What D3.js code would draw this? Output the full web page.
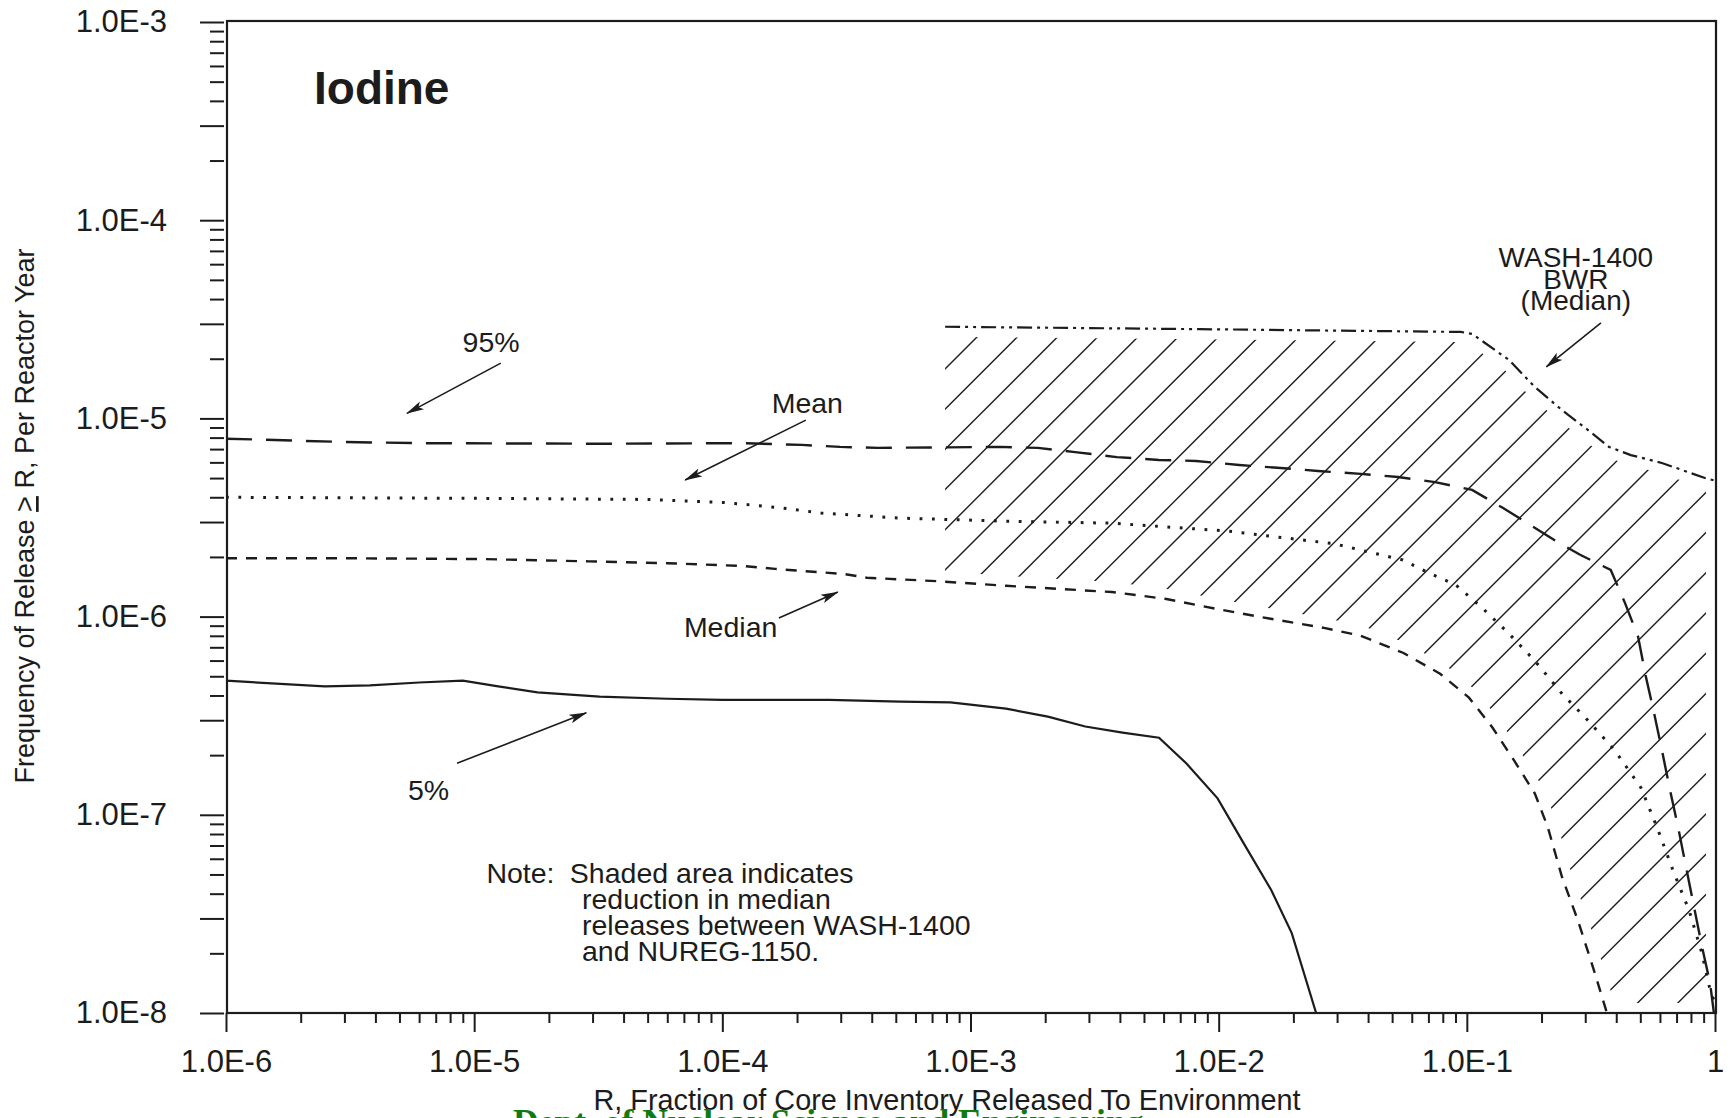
<!DOCTYPE html>
<html><head><meta charset="utf-8">
<script src="https://cdn.jsdelivr.net/npm/d3@7"></script>
<style>
html,body{margin:0;padding:0;background:#fff;overflow:hidden;}
svg{display:block;font-family:"Liberation Sans",Arial,Helvetica,sans-serif;}
</style></head><body>
<svg id="chart" width="1730" height="1118"></svg>
<script>
// ---------------- data (R = fraction released, F = frequency per reactor year) -------------
const p95R = [1e-6, 3e-6, 6.1e-6, 3.2e-5, 1.22e-4, 2.09e-4, 2.98e-4, 4.24e-4, 1.31e-3, 1.87e-3, 2.64e-3, 3.89e-3, 5.75e-3, 8.1e-3, 1.21e-2, 1.78e-2, 2.51e-2, 3.74e-2, 5.28e-2, 7.45e-2, 0.105, 0.14, 0.18, 0.229, 0.286, 0.38, 0.434, 0.49, 0.527, 0.568, 0.611, 0.659, 0.71, 0.764, 0.823, 0.887, 0.955, 0.99];
const p95F = [7.9e-6, 7.6e-6, 7.5e-6, 7.45e-6, 7.5e-6, 7.35e-6, 7.18e-6, 7.1e-6, 7.18e-6, 7.1e-6, 6.76e-6, 6.38e-6, 6.17e-6, 6.1e-6, 5.82e-6, 5.62e-6, 5.43e-6, 5.25e-6, 5.06e-6, 4.77e-6, 4.36e-6, 3.53e-6, 2.9e-6, 2.4e-6, 2.05e-6, 1.72e-6, 1.17e-6, 7.9e-7, 4.95e-7, 3.27e-7, 2.12e-7, 1.33e-7, 8.67e-8, 5.46e-8, 3.43e-8, 2.15e-8, 1.42e-8, 1.0e-8];

const meanR = [1e-6, 1e-5, 5e-5, 1.03e-4, 1.75e-4, 2.5e-4, 5.2e-4, 1.39e-3, 3.72e-3, 1.09e-2, 2.92e-2, 5.53e-2, 7.03e-2, 9.0e-2, 0.115, 0.148, 0.188, 0.242, 0.308, 0.395, 0.503, 0.584, 0.677, 0.786, 0.886, 0.955, 1.0];
const meanF = [4.0e-6, 3.95e-6, 3.9e-6, 3.76e-6, 3.53e-6, 3.33e-6, 3.14e-6, 3.03e-6, 2.96e-6, 2.7e-6, 2.33e-6, 1.93e-6, 1.66e-6, 1.45e-6, 1.11e-6, 8.19e-7, 5.98e-7, 4.08e-7, 2.99e-7, 2.11e-7, 1.37e-7, 8.65e-8, 5.25e-8, 3.3e-8, 2.0e-8, 1.31e-8, 1.12e-8];

const medianR = [1e-6, 3e-6, 6e-6, 1.1e-5, 2.9e-5, 6e-5, 1.22e-4, 1.63e-4, 3.09e-4, 3.83e-4, 7.3e-4, 1.39e-3, 2.27e-3, 3.72e-3, 6.08e-3, 9.93e-3, 1.62e-2, 2.63e-2, 3.74e-2, 5.53e-2, 7.8e-2, 0.102, 0.127, 0.155, 0.188, 0.212, 0.242, 0.28, 0.322, 0.367];
const medianF = [1.97e-6, 1.97e-6, 1.96e-6, 1.95e-6, 1.9e-6, 1.86e-6, 1.8e-6, 1.74e-6, 1.64e-6, 1.57e-6, 1.51e-6, 1.43e-6, 1.38e-6, 1.33e-6, 1.23e-6, 1.09e-6, 9.75e-7, 8.79e-7, 8.0e-7, 6.57e-7, 5.15e-7, 3.9e-7, 2.75e-7, 1.88e-7, 1.28e-7, 8.65e-8, 4.84e-8, 2.94e-8, 1.71e-8, 1.0e-8];

const p05R = [1e-6, 1.8e-6, 2.5e-6, 3.8e-6, 6e-6, 9e-6, 1.25e-5, 1.8e-5, 3.2e-5, 6e-5, 1e-4, 1.6e-4, 2.7e-4, 5.2e-4, 8.3e-4, 1.39e-3, 2.05e-3, 2.9e-3, 4.1e-3, 5.75e-3, 7.4e-3, 9.9e-3, 1.26e-2, 1.63e-2, 1.97e-2, 2.47e-2];
const p05F = [4.75e-7, 4.55e-7, 4.45e-7, 4.5e-7, 4.65e-7, 4.75e-7, 4.45e-7, 4.15e-7, 3.95e-7, 3.85e-7, 3.8e-7, 3.8e-7, 3.8e-7, 3.72e-7, 3.69e-7, 3.43e-7, 3.13e-7, 2.79e-7, 2.6e-7, 2.45e-7, 1.82e-7, 1.21e-7, 7.2e-8, 4.16e-8, 2.53e-8, 1.0e-8];

const washR = [7.9e-4, 8.4e-3, 9.46e-2, 0.105, 0.148, 0.188, 0.242, 0.308, 0.374, 0.458, 0.611, 0.911, 1.0];
const washF = [2.9e-5, 2.82e-5, 2.73e-5, 2.67e-5, 1.97e-5, 1.44e-5, 1.1e-5, 8.73e-6, 7.18e-6, 6.53e-6, 5.96e-6, 5.0e-6, 4.85e-6];

const xMajorTicks = [1e-6, 1e-5, 1e-4, 1e-3, 1e-2, 1e-1, 1];
const xTickLabels = ["1.0E-6", "1.0E-5", "1.0E-4", "1.0E-3", "1.0E-2", "1.0E-1", "1"];
const yMajorTicks = [1e-8, 1e-7, 1e-6, 1e-5, 1e-4, 1e-3];
const yTickLabels = ["1.0E-8", "1.0E-7", "1.0E-6", "1.0E-5", "1.0E-4", "1.0E-3"];

const chartTitle = "Iodine";
const xTitle = "R, Fraction of Core Inventory Released To Environment";
const yTitleA = "Frequency of Release ", yTitleGe = ">", yTitleB = " R, Per Reactor Year";
const noteLines = ["Shaded area indicates", "reduction in median", "releases between WASH-1400", "and NUREG-1150."];
const washLabel = ["WASH-1400", "BWR", "(Median)"];
const footer = "Dept. of Nuclear Science and Engineering";

// annotation anchors in data coordinates [R, F]
const annotations = [
  {text: "95%",    at: [1.17e-5, 2.16e-5], from: [1.28e-5, 1.9e-5],  to: [5.36e-6, 1.06e-5]},
  {text: "Mean",   at: [2.2e-4, 1.06e-5],  from: [2.17e-4, 9.8e-6],  to: [7.08e-5, 4.89e-6]},
  {text: "Median", at: [1.08e-4, 7.89e-7], from: [1.69e-4, 9.84e-7], to: [2.92e-4, 1.33e-6]},
  {text: "5%",     at: [6.55e-6, 1.19e-7], from: [8.53e-6, 1.82e-7], to: [2.83e-5, 3.27e-7]}
];
const washArrow = {at: [0.275, 5.8e-5], from: [0.347, 3.03e-5], to: [0.209, 1.82e-5]};
const noteAt = {noteR: 1.12e-5, textR: 2.43e-5, indentR: 2.72e-5, F: [4.53e-8, 3.35e-8, 2.48e-8, 1.83e-8]};

// ---------------- drawing -------------
const INK = "#1c1c1c";
const svg = d3.select("#chart");
const x = d3.scaleLog().domain([1e-6, 1]).range([226, 1715]);
const y = d3.scaleLog().domain([1e-8, 1e-3]).range([1013, 22]);
const [xl, xr] = x.range(), [yb, yt] = y.range();

const defs = svg.append("defs");
defs.append("clipPath").attr("id", "plotclip").append("rect")
  .attr("x", xl).attr("y", yt).attr("width", xr - xl + 2).attr("height", yb - yt);
defs.append("marker").attr("id", "arrow").attr("viewBox", "0 0 18 10")
  .attr("refX", 17).attr("refY", 5).attr("markerWidth", 18).attr("markerHeight", 10)
  .attr("markerUnits", "userSpaceOnUse").attr("orient", "auto")
  .append("path").attr("d", "M0,0.5 L18,5 L0,9.5 L4,5 Z").attr("fill", INK);

// ---- hatched region between WASH-1400 and NUREG-1150 median
const zip = (a, b) => a.map((v, i) => [v, b[i]]);
const wash = zip(washR, washF), med = zip(medianR, medianF);
const R0 = washR[0];
function medAt(r) {
  for (let i = 1; i < med.length; i++) {
    if (med[i][0] >= r) {
      const t = (Math.log(r) - Math.log(med[i-1][0])) / (Math.log(med[i][0]) - Math.log(med[i-1][0]));
      return Math.exp(Math.log(med[i-1][1]) + t * (Math.log(med[i][1]) - Math.log(med[i-1][1])));
    }
  }
  return med[med.length - 1][1];
}
const inset = 10;
const poly = [];
poly.push([x(R0) - inset, y(washF[0])]);
wash.forEach(d => poly.push([x(d[0]), y(d[1])]));
poly.push([xr + 1, y(washF[washF.length - 1])]);
poly.push([xr + 1, yb]);
med.filter(d => d[0] > R0).reverse().forEach(d => poly.push([x(d[0]), y(d[1])]));
poly.push([x(R0), y(medAt(R0))]);
poly.push([x(R0) - inset, y(medAt(R0))]);
const polyPath = "M" + poly.map(p => p.join(",")).join("L") + "Z";
const mask = defs.append("mask").attr("id", "hatchmask").attr("maskUnits", "userSpaceOnUse")
  .attr("x", 0).attr("y", 0).attr("width", 1730).attr("height", 1118);
mask.append("path").attr("d", polyPath).attr("fill", "#fff").attr("stroke", "#000").attr("stroke-width", inset * 2);

const hatch = svg.append("g").attr("mask", "url(#hatchmask)").attr("clip-path", "url(#plotclip)");
const hx0 = x(R0), hyTop = y(washF[0]);
const spacing = 40.2, c0 = 1314;
const cMin = hx0 + hyTop, cMax = xr + yb;
for (let c = c0 - Math.ceil((c0 - cMin) / spacing) * spacing; c <= cMax + spacing; c += spacing) {
  hatch.append("line").attr("x1", c - yb).attr("y1", yb).attr("x2", c - hyTop).attr("y2", hyTop)
    .attr("stroke", INK).attr("stroke-width", 1.4);
}

// ---- curves
const line = d3.line().x(d => x(d[0])).y(d => y(d[1]));
const curves = svg.append("g").attr("clip-path", "url(#plotclip)").attr("fill", "none").attr("stroke", INK);
curves.append("path").datum(zip(p95R, p95F)).attr("d", line).attr("stroke-width", 2.4).attr("stroke-dasharray", "26,14");
curves.append("path").datum(zip(meanR, meanF)).attr("d", line).attr("stroke-width", 3).attr("stroke-dasharray", "2.8,9.6");
curves.append("path").datum(med).attr("d", line).attr("stroke-width", 2.4).attr("stroke-dasharray", "11,9");
curves.append("path").datum(zip(p05R, p05F)).attr("d", line).attr("stroke-width", 2.2);
curves.append("path").datum(wash).attr("d", line).attr("stroke-width", 2.2).attr("stroke-dasharray", "15,5,3,5,3,5");

// ---- frame
svg.append("rect").attr("x", xl + 1).attr("y", yt - 1).attr("width", xr - xl).attr("height", yb - yt + 1)
  .attr("fill", "none").attr("stroke", INK).attr("stroke-width", 2.2);

// ---- axes
function styleAxis(g, fs) {
  g.select(".domain").remove();
  g.selectAll(".tick line").attr("stroke", INK).attr("stroke-width", 2);
  g.selectAll(".tick text").attr("fill", INK).attr("font-size", fs)
    .attr("font-family", '"Liberation Sans",Arial,Helvetica,sans-serif');
}
const decX = d3.range(-6, 0), decY = d3.range(-8, -3);
const xMinor = decX.flatMap(k => d3.range(2, 10).map(m => m * Math.pow(10, k)));
const yThree = decY.map(k => 3 * Math.pow(10, k));
const yMinor = decY.flatMap(k => [2, 4, 5, 6, 7, 8, 9].map(m => m * Math.pow(10, k)));

svg.append("g").attr("transform", `translate(0,${yb})`)
  .call(d3.axisBottom(x).tickValues(xMajorTicks).tickSize(19).tickPadding(18)
    .tickFormat(d => xTickLabels[xMajorTicks.indexOf(d)])).call(g => styleAxis(g, 31));
svg.append("g").attr("transform", `translate(0,${yb})`)
  .call(d3.axisBottom(x).tickValues(xMinor).tickSize(10).tickFormat(() => "")).call(g => styleAxis(g, 31));

svg.append("g").attr("transform", `translate(${xl - 2},0)`)
  .call(d3.axisLeft(y).tickValues(yMajorTicks).tickSize(24).tickPadding(33)
    .tickFormat(d => yTickLabels[yMajorTicks.indexOf(d)])).call(g => styleAxis(g, 31));
svg.append("g").attr("transform", `translate(${xl - 2},0)`)
  .call(d3.axisLeft(y).tickValues(yThree).tickSize(24).tickFormat(() => "")).call(g => styleAxis(g, 31));
svg.append("g").attr("transform", `translate(${xl - 2},0)`)
  .call(d3.axisLeft(y).tickValues(yMinor).tickSize(14).tickFormat(() => "")).call(g => styleAxis(g, 31));

// ---- axis titles
svg.append("text").attr("x", 947).attr("y", 1110).attr("text-anchor", "middle")
  .attr("font-size", 28.8).attr("fill", INK).text(xTitle);
const yt_ = svg.append("text").attr("transform", "translate(34,516) rotate(-90)").attr("text-anchor", "middle")
  .attr("font-size", 27).attr("fill", INK);
yt_.append("tspan").text(yTitleA);
yt_.append("tspan").attr("text-decoration", "underline").text(yTitleGe);
yt_.append("tspan").text(yTitleB);

// ---- chart title
svg.append("text").attr("x", 314).attr("y", 104).attr("font-size", 46).attr("font-weight", "bold")
  .attr("fill", INK).text(chartTitle);

// ---- annotations
const ann = svg.append("g").attr("fill", INK);
annotations.forEach(a => {
  ann.append("text").attr("x", x(a.at[0])).attr("y", y(a.at[1])).attr("text-anchor", "middle")
    .attr("font-size", 28.5).text(a.text);
  ann.append("line").attr("x1", x(a.from[0])).attr("y1", y(a.from[1]))
    .attr("x2", x(a.to[0])).attr("y2", y(a.to[1]))
    .attr("stroke", INK).attr("stroke-width", 1.6).attr("marker-end", "url(#arrow)");
});
const wl = ann.append("text").attr("text-anchor", "middle").attr("font-size", 28);
washLabel.forEach((t, i) => wl.append("tspan").attr("x", x(washArrow.at[0]))
  .attr("y", y(washArrow.at[1]) + i * 21.5).text(t));
ann.append("line").attr("x1", x(washArrow.from[0])).attr("y1", y(washArrow.from[1]))
  .attr("x2", x(washArrow.to[0])).attr("y2", y(washArrow.to[1]))
  .attr("stroke", INK).attr("stroke-width", 1.6).attr("marker-end", "url(#arrow)");

// note
ann.append("text").attr("x", x(noteAt.noteR)).attr("y", y(noteAt.F[0])).attr("font-size", 28.5).text("Note:");
noteLines.forEach((t, i) => ann.append("text")
  .attr("x", x(i === 0 ? noteAt.textR : noteAt.indentR)).attr("y", y(noteAt.F[i]))
  .attr("font-size", 28.5).text(t));

// footer (cut off at page bottom)
svg.append("text").attr("x", 513).attr("y", 1134).attr("font-size", 35.5).attr("font-weight", "bold")
  .attr("font-family", '"Liberation Serif","Times New Roman",serif').attr("fill", "#127a12").text(footer);
</script>
</body></html>
